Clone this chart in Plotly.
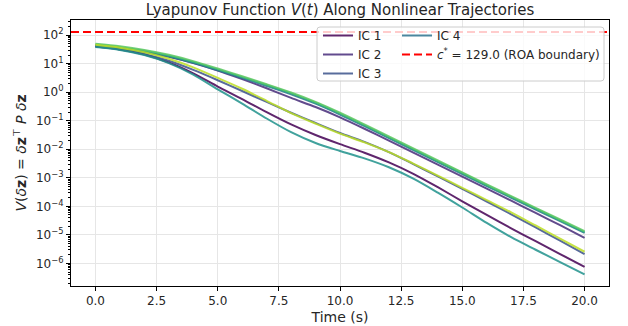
import plotly.graph_objects as go

# Time samples (s)
t = [0, 1, 2, 3, 4, 5, 6, 7, 8, 9, 10, 11, 12, 13, 14, 15, 16, 17, 18, 19, 20]

# V(t) along each trajectory
ic1 = [39.8, 31.6, 20.9, 11.0, 4.57, 1.58, 0.575, 0.200, 0.0741, 0.0316, 0.0151, 7.59e-3, 3.47e-3,
       1.38e-3, 4.68e-4, 1.51e-4, 5.01e-5, 1.70e-5, 6.03e-6, 2.14e-6, 7.59e-7]
ic2 = [42.7, 34.7, 25.7, 17.4, 10.5, 5.75, 2.88, 1.38, 0.631, 0.302, 0.132, 0.0525, 0.0200,
       7.59e-3, 2.88e-3, 1.10e-3, 4.17e-4, 1.58e-4, 5.89e-5, 2.19e-5, 7.94e-6]
ic3 = [39.8, 31.6, 21.9, 12.6, 6.03, 2.63, 1.10, 0.457, 0.191, 0.0832, 0.0372, 0.0182, 7.94e-3,
       3.02e-3, 1.12e-3, 4.07e-4, 1.48e-4, 5.25e-5, 1.82e-5, 6.31e-6, 2.14e-6]
ic4 = [43.7, 35.5, 26.3, 17.8, 10.7, 5.89, 3.16, 1.66, 0.851, 0.398, 0.166, 0.0646, 0.0245,
       9.33e-3, 3.55e-3, 1.35e-3, 5.13e-4, 2.00e-4, 7.76e-5, 3.02e-5, 1.17e-5]
ic5 = [38.0, 30.2, 20.0, 10.5, 4.17, 1.26, 0.398, 0.120, 0.0398, 0.0166, 8.71e-3, 4.79e-3, 2.34e-3,
       9.33e-4, 3.02e-4, 9.12e-5, 2.63e-5, 8.32e-6, 3.02e-6, 1.12e-6, 4.17e-7]
ic6 = [46.8, 38.0, 28.2, 19.1, 11.5, 6.31, 3.39, 1.78, 0.912, 0.427, 0.178, 0.0692, 0.0263,
       0.0100, 3.80e-3, 1.45e-3, 5.50e-4, 2.14e-4, 8.32e-5, 3.24e-5, 1.26e-5]
ic7 = [50.1, 40.7, 30.2, 20.4, 12.3, 6.76, 3.63, 1.91, 0.977, 0.457, 0.191, 0.0741, 0.0282,
       0.0107, 4.07e-3, 1.55e-3, 5.89e-4, 2.29e-4, 8.91e-5, 3.47e-5, 1.35e-5]
ic8 = [45.7, 36.3, 25.1, 14.8, 7.41, 3.16, 1.32, 0.501, 0.186, 0.0794, 0.0355, 0.0174, 7.94e-3,
       3.16e-3, 1.20e-3, 4.47e-4, 1.66e-4, 6.17e-5, 2.14e-5, 7.41e-6, 2.57e-6]

trajectories = [ic1, ic2, ic3, ic4, ic5, ic6, ic7, ic8]
ic_names = ["IC 1", "IC 2", "IC 3", "IC 4", "IC 5", "IC 6", "IC 7", "IC 8"]
ic_colors = ["#440154", "#472c7a", "#3b528b", "#2c728e", "#20928c", "#28ae80", "#5ec962", "#bddf26"]

c_star = 129.0
x_range = [-1, 21]

y_tickvals = [1e-6, 1e-5, 1e-4, 1e-3, 1e-2, 1e-1, 1e0, 1e1, 1e2]
y_ticktext = ["10<sup>\u22126</sup>", "10<sup>\u22125</sup>", "10<sup>\u22124</sup>", "10<sup>\u22123</sup>",
              "10<sup>\u22122</sup>", "10<sup>\u22121</sup>", "10<sup>0</sup>", "10<sup>1</sup>", "10<sup>2</sup>"]
x_tickvals = [0, 2.5, 5, 7.5, 10, 12.5, 15, 17.5, 20]

fig = go.Figure()

for i, (vals, name, col) in enumerate(zip(trajectories, ic_names, ic_colors)):
    fig.add_trace(go.Scatter(
        x=t, y=vals, mode="lines", name=name,
        line=dict(color=col, width=2, shape="spline", smoothing=0.8),
        opacity=0.85,
        showlegend=i < 4,
        legend="legend" if i < 3 else "legend2",
    ))

fig.add_trace(go.Scatter(
    x=x_range, y=[c_star, c_star], mode="lines",
    name="<i>c</i><sup>*</sup> = 129.0 (ROA boundary)",
    line=dict(color="#ff0000", width=2, dash="8px,4px"),
    legend="legend2",
))

# Plot-area geometry in pixels
W, H = 628, 326
ml, mr, mt, mb = 71, 19, 20, 40
pw, ph = W - ml - mr, H - mt - mb


def px_x(p):
    return (p - ml) / pw


def px_y(p):
    return (H - mb - p) / ph


# Legend frame (rounded rectangle) behind the two legend columns
x0, x1, y0, y1 = px_x(317), px_x(604), px_y(27), px_y(81)
rx, ry = 3 / pw, 3 / ph
frame = (f"M {x0+rx},{y0} L {x1-rx},{y0} Q {x1},{y0} {x1},{y0-ry} "
         f"L {x1},{y1+ry} Q {x1},{y1} {x1-rx},{y1} L {x0+rx},{y1} "
         f"Q {x0},{y1} {x0},{y1+ry} L {x0},{y0-ry} Q {x0},{y0} {x0+rx},{y0} Z")
fig.add_shape(type="path", path=frame, xref="paper", yref="paper",
              fillcolor="rgba(255,255,255,0.8)", line=dict(color="#cccccc", width=1), layer="above")

font_family = "DejaVu Sans"
axis_common = dict(
    showline=True, linecolor="black", linewidth=1, mirror=True,
    ticks="outside", ticklen=4, tickcolor="black",
    showgrid=True, gridcolor="#e6e6e6", gridwidth=1,
    zeroline=False, automargin=False, tickfont=dict(size=12, color="#262626"),
)

fig.update_layout(
    width=W, height=H,
    margin=dict(l=ml, r=mr, t=mt, b=mb),
    paper_bgcolor="white", plot_bgcolor="white",
    font=dict(family=font_family, color="#262626"),
    title=dict(text="Lyapunov Function <i>V</i>(<i>t</i>) Along Nonlinear Trajectories",
               x=px_x(340), xref="paper", xanchor="center",
               y=1 - 10 / H, yref="container", yanchor="middle",
               font=dict(size=15, color="#262626")),
    xaxis=dict(range=x_range, tickvals=x_tickvals, tickformat=".1f",
               title=dict(text="Time (s)", font=dict(size=14), standoff=4), **axis_common),
    yaxis=dict(type="log", range=[-6.79, 2.53], tickvals=y_tickvals, ticktext=y_ticktext,
               title=dict(text="<i>V</i>(<i>\u03b4</i><b>z</b>) = <i>\u03b4</i><b>z</b><sup>\u22a4</sup> <i>P</i> <i>\u03b4</i><b>z</b>",
                          font=dict(size=14), standoff=6),
               minor=dict(ticks="outside", ticklen=2, tickcolor="black", dtick="D1", showgrid=False),
               **axis_common),
    legend=dict(x=px_x(318), y=px_y(21), xanchor="left", yanchor="top",
                bgcolor="rgba(0,0,0,0)", borderwidth=0, font=dict(size=12),
                tracegroupgap=0, itemwidth=30),
    legend2=dict(x=px_x(397), y=px_y(21), xanchor="left", yanchor="top",
                 bgcolor="rgba(0,0,0,0)", borderwidth=0, font=dict(size=12),
                 tracegroupgap=0, itemwidth=30),
)

fig.write_html("out.html")
